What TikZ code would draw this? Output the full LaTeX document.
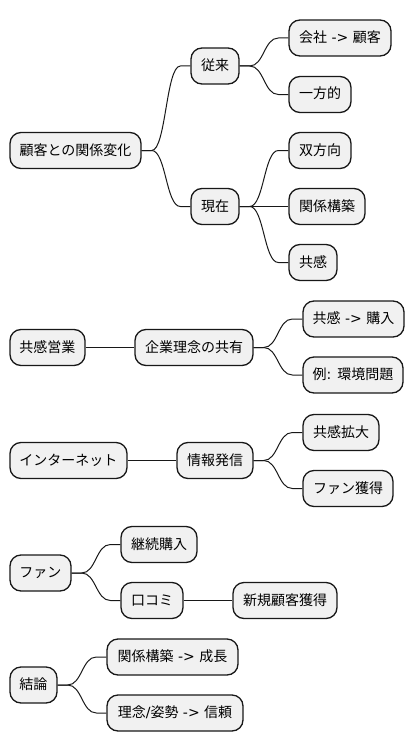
\documentclass[tikz,border=0pt]{standalone}
\usepackage{fontspec}
\setmainfont{Noto Sans CJK JP}
\newfontfamily\latfont{DejaVu Sans}
\newcommand{\lat}[1]{{\latfont #1}}
\usetikzlibrary{calc}
\definecolor{boxfill}{HTML}{F1F1F1}
\definecolor{boxline}{HTML}{181818}
\tikzset{
  mm/.style={draw=boxline, fill=boxfill, line width=1.3pt, rounded corners=11pt,
    minimum height=36pt, inner sep=0pt, text height=11pt, text depth=2pt,
    font=\fontsize{14}{16}\selectfont, text=black},
  conn/.style={draw=boxline, line width=1pt}
}
\newcommand{\mmlink}[2]{%
  \draw[conn] let \p1=(#1.east), \p2=(#2.west) in
    (\p1) -- (\x1+10pt,\y1) .. controls ({(\x1+\x2)/2},\y1) and ({(\x1+\x2)/2},\y2) .. (\x2-10pt,\y2) -- (\p2);}
\begin{document}
\begin{tikzpicture}[x=1pt,y=-1pt]
\useasboundingbox (0,0) rectangle (416,752);
% diagram 1
\node[mm, minimum width=131pt] (root) at (75.5,150.5) {顧客との関係変化};
\node[mm, minimum width=48pt] (jr) at (215,66) {従来};
\node[mm, minimum width=48pt] (gz) at (215,206.5) {現在};
\node[mm, minimum width=102pt] (ks) at (340,38) {会社\lat{ -> }顧客};
\node[mm, minimum width=62pt] (ip) at (320,94.5) {一方的};
\node[mm, minimum width=62pt] (sh) at (320,150.5) {双方向};
\node[mm, minimum width=76pt] (kk) at (327,206.5) {関係構築};
\node[mm, minimum width=48pt] (kn) at (313,262.5) {共感};
\mmlink{root}{jr}
\mmlink{root}{gz}
\mmlink{jr}{ks}
\mmlink{jr}{ip}
\mmlink{gz}{sh}
\mmlink{gz}{kk}
\mmlink{gz}{kn}
% diagram 2
\node[mm, minimum width=75pt] (ke) at (47.5,347.5) {共感営業};
\node[mm, minimum width=118pt] (kr) at (194,347.5) {企業理念の共有};
\node[mm, minimum width=101pt] (kb) at (353.5,319) {共感\lat{ -> }購入};
\node[mm, minimum width=100pt] (rk) at (353,375) {例\lat{: }環境問題};
\mmlink{ke}{kr}
\mmlink{kr}{kb}
\mmlink{kr}{rk}
% diagram 3
\node[mm, minimum width=117pt] (in) at (68.5,460.5) {インターネット};
\node[mm, minimum width=76pt] (jh) at (215,460.5) {情報発信};
\node[mm, minimum width=76pt] (kd) at (341,432.5) {共感拡大};
\node[mm, minimum width=90pt] (fk) at (348,488.5) {ファン獲得};
\mmlink{in}{jh}
\mmlink{jh}{kd}
\mmlink{jh}{fk}
% diagram 4
\node[mm, minimum width=61pt] (fan) at (40.5,573) {ファン};
\node[mm, minimum width=76pt] (kz) at (159,544.5) {継続購入};
\node[mm, minimum width=62pt] (kc) at (152,600.5) {口コミ};
\node[mm, minimum width=104pt] (sk) at (285,600.5) {新規顧客獲得};
\mmlink{fan}{kz}
\mmlink{fan}{kc}
\mmlink{kc}{sk}
% diagram 5
\node[mm, minimum width=47pt] (kr2) at (33.5,685) {結論};
\node[mm, minimum width=131pt] (ks2) at (172.5,657) {関係構築\lat{ -> }成長};
\node[mm, minimum width=136pt] (rs) at (175,713) {理念\lat{/}姿勢\lat{ -> }信頼};
\mmlink{kr2}{ks2}
\mmlink{kr2}{rs}
\end{tikzpicture}
\end{document}
